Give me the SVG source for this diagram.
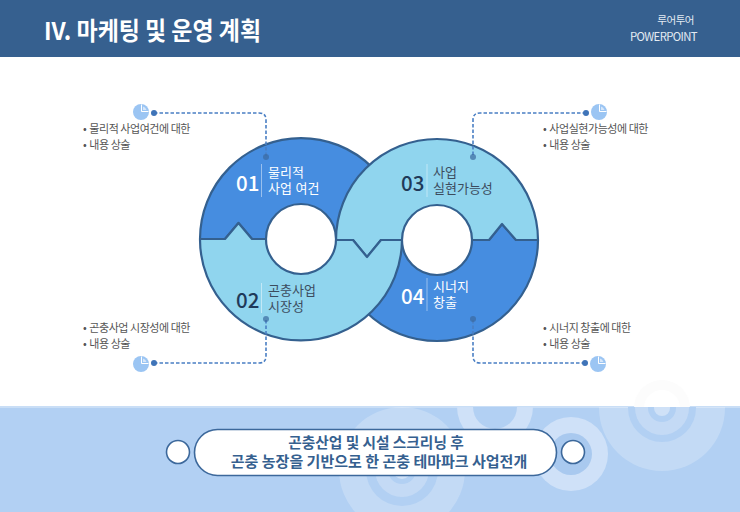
<svg xmlns="http://www.w3.org/2000/svg" width="740" height="512" viewBox="0 0 740 512">
<style>
text{font-family:"Noto Sans CJK KR","Noto Sans",sans-serif}
.seg{stroke:#34608f;stroke-width:2.2;stroke-linejoin:round}
.blue{fill:#468de0}.light{fill:#90d5ee}
.hole{fill:#fff;stroke:#34608f;stroke-width:2.2}
.num{font-size:20.5px;font-weight:500}
text.lab{font-size:13px;font-family:"Liberation Sans","Noto Sans CJK KR",sans-serif}
.w{fill:#fff}.d{fill:#1f3a5a}.dl{fill:#3c4c5e}
.div{stroke:#fff;stroke-opacity:.45;stroke-width:1}
.dash{fill:none;stroke:#4a7fc4;stroke-width:1.6;stroke-dasharray:3.5 2}
.dot{fill:#3f74b8}.rdot{fill:#3a6a9f;fill-opacity:.7}
.pie{fill:#9bc5f3}
.note{font-size:11px;fill:#555;letter-spacing:-.45px}
.br{fill:#fff;fill-opacity:.22}.base{fill:#b2d0f3}
.mid{font-size:14.7px;font-weight:700;fill:#35608f;text-anchor:middle}
.pill{fill:#fff;stroke:#3c689b;stroke-width:1.6}
</style>
<defs>
<clipPath id="foot"><rect x="0" y="407" width="740" height="105"/></clipPath>
<g id="pie"><circle r="8" class="pie"/><path d="M0.500-7.500 V-0.500 H7.500" fill="none" stroke="#fff" stroke-width="1"/><path d="M2-5.500 L2-2 L5.500-2 A6 6 0 0 0 2-5.500Z" fill="#d7e7fa"/></g>
</defs>
<rect width="740" height="512" fill="#fff"/>
<g id="header">
<rect width="740" height="57" fill="#36608f"/>
<text x="44" y="40" font-size="24.5" font-weight="700" fill="#fff" textLength="217" lengthAdjust="spacingAndGlyphs">IV. 마케팅 및 운영 계획</text>
<text x="694" y="24" font-size="10.5" fill="#e4ebf3" text-anchor="end" letter-spacing="-.5">루어투어</text>
<text x="697" y="41" font-size="11.3" fill="#e4ebf3" text-anchor="end" letter-spacing="-.6">POWERPOINT</text>
</g>
<g id="footer">
<rect y="407" width="740" height="105" fill="#b2d0f3"/>
<rect y="406" width="740" height="2" fill="#c9def6"/>
<circle cx="662" cy="408" r="28" fill="#fcfcfc"/><circle cx="662" cy="408" r="18" fill="#fff"/>
<g clip-path="url(#foot)">
<circle cx="662" cy="408" r="63" class="br"/><circle cx="662" cy="408" r="34" class="base"/><circle cx="662" cy="408" r="27" fill="#c4daf5"/><circle cx="662" cy="408" r="14" class="base"/><circle cx="662" cy="408" r="8" fill="#cfe1f7"/>
<circle cx="402" cy="470" r="63" class="br"/><circle cx="402" cy="470" r="36" class="base"/><circle cx="402" cy="470" r="27" fill="#c4daf5"/><circle cx="402" cy="470" r="14" class="base"/><circle cx="402" cy="470" r="9" fill="#cfe1f7"/>
<circle cx="495" cy="407" r="38" fill="#cfe1f8"/><circle cx="495" cy="407" r="22" class="base"/>
<circle cx="571" cy="454" r="37" fill="#cfe1f8"/><circle cx="571" cy="454" r="21" fill="#a9c9ef"/>
</g>
</g>
<g id="banner">
<circle cx="178" cy="452" r="11.5" class="pill"/>
<circle cx="573" cy="452" r="11.5" class="pill"/>
<rect x="194.500" y="429.500" width="362" height="46" rx="23" class="pill"/>
<text x="376" y="448" class="mid">곤충산업 및 시설 스크리닝 후</text>
<text x="379" y="467" class="mid" style="font-size:15px">곤충 농장을 기반으로 한 곤충 테마파크 사업전개</text>
</g>
<g id="rings">
<g id="node-01-shape"><path class="seg blue" d="M200 239A101 101 0 0 1 402 239L336 239H266L252 239 238.500 223 225 239Z"/></g>
<g id="node-04-shape"><path class="seg blue" d="M336 240A101 101 0 0 0 538 240L516 240 502 224 489 240H402Z"/></g>
<g id="node-03-shape"><path class="seg light" d="M336 240A101 101 0 0 1 538 240H516L502 224 489 240H381L367 257 353 240Z"/></g>
<g id="node-02-shape"><path class="seg light" d="M200 239A101 101 0 0 0 402 240H381L367 257 353 240H336L266 239H252L238.500 223 225 239Z"/></g>
<circle class="hole" cx="301" cy="239" r="35"/>
<circle class="hole" cx="437" cy="240" r="35"/>
</g>
<g id="connectors">
<path class="dash" d="M154 113H259Q266 113 266 120V157"/>
<path class="dash" d="M586 113H480Q473 113 473 120V157"/>
<path class="dash" d="M154 363H259Q266 363 266 356V319"/>
<path class="dash" d="M585 363H480Q473 363 473 356V319"/>
<circle class="dot" cx="154" cy="113" r="3"/><circle class="dot" cx="586" cy="113" r="3"/><circle class="dot" cx="154" cy="363" r="3"/><circle class="dot" cx="585" cy="363" r="3"/>
<circle class="rdot" cx="266" cy="157" r="3"/><circle class="rdot" cx="473" cy="157" r="3"/><circle class="rdot" cx="266" cy="319" r="3"/><circle class="rdot" cx="473" cy="319" r="3"/>
</g>
<g id="node-01">
<use href="#pie" x="141" y="112"/>
<text class="note" x="83" y="133">• <tspan dx="1">물리적 사업여건에 대한</tspan></text><text class="note" x="83" y="149">• <tspan dx="1">내용 상술</tspan></text>
<text class="num w" x="236" y="191">01</text><line class="div" x1="261.500" y1="164" x2="261.500" y2="197"/>
<text class="lab w" x="268" y="177">물리적</text><text class="lab w" x="268" y="193">사업 여건</text>
</g>
<g id="node-02">
<use href="#pie" x="141" y="364"/>
<text class="note" x="83" y="332">• <tspan dx="1">곤충사업 시장성에 대한</tspan></text><text class="note" x="83" y="348">• <tspan dx="1">내용 상술</tspan></text>
<text class="num d" x="236" y="308">02</text><line class="div" x1="261.500" y1="283" x2="261.500" y2="313"/>
<text class="lab dl" x="268" y="295">곤충사업</text><text class="lab dl" x="268" y="311">시장성</text>
</g>
<g id="node-03">
<use href="#pie" x="599" y="112"/>
<text class="note" x="543" y="133">• <tspan dx="1">사업실현가능성에 대한</tspan></text><text class="note" x="543" y="149">• <tspan dx="1">내용 상술</tspan></text>
<text class="num d" x="401" y="191">03</text><line class="div" x1="427" y1="164" x2="427" y2="197"/>
<text class="lab dl" x="433" y="177">사업</text><text class="lab dl" x="433" y="193">실현가능성</text>
</g>
<g id="node-04">
<use href="#pie" x="598" y="364"/>
<text class="note" x="543" y="332">• <tspan dx="1">시너지 창출에 대한</tspan></text><text class="note" x="543" y="348">• <tspan dx="1">내용 상술</tspan></text>
<text class="num w" x="401" y="304">04</text><line class="div" x1="427" y1="278" x2="427" y2="311"/>
<text class="lab w" x="433" y="291">시너지</text><text class="lab w" x="433" y="307">창출</text>
</g>
</svg>
